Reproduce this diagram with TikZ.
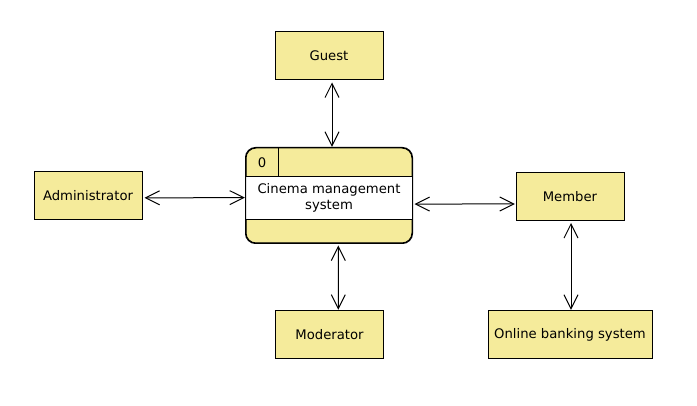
\documentclass[tikz,border=0pt]{standalone}
\usepackage{fontspec}
\setmainfont{DejaVu Sans}
\usetikzlibrary{arrows.meta,calc}
\definecolor{boxyellow}{RGB}{245,235,155}
\begin{document}
\begin{tikzpicture}[x=0.75pt,y=-0.75pt,
  ext/.style={draw=black, fill=boxyellow, line width=0.75pt, minimum width=81pt, minimum height=36pt, inner sep=0pt, font=\fontsize{9.9}{12}\selectfont},
  flow/.style={line width=0.75pt, {Straight Barb[length=10.5pt,width=10.5pt]}-{Straight Barb[length=10.5pt,width=10.5pt]}, shorten <=1.5pt, shorten >=0.5pt},
  lbl/.style={inner sep=0pt, font=\fontsize{9.9}{12}\selectfont},
]
\useasboundingbox (0,0) rectangle (697,406);
\node[ext] (guest) at (329,56) {Guest};
\node[ext] (admin) at (88,196) {Administrator};
\node[ext] (member) at (570,196.5) {Member};
\node[ext] (moder) at (329.5,335) {Moderator};
\node[ext, minimum width=123pt] (bank) at (570,335) {Online banking system};
% process
\node[draw, fill=boxyellow, rounded corners=7.5pt, minimum width=124.5pt, minimum height=71.25pt, line width=0.75pt, inner sep=0pt] (proc) at (329,195.5) {};
\fill[white] (246,177) rectangle (412,220);
\draw[line width=0.75pt] (246,177) -- (412,177);
\draw[line width=0.75pt] (246,220) -- (412,220);
\draw[line width=0.75pt] (278.5,148) -- (278.5,177);
\draw[line width=0.75pt, rounded corners=7.5pt] (proc.north west) rectangle (proc.south east);
\node[lbl] (pid) at (262,162.5) {0};
\node[lbl, align=center] (pname) at (329,198) {Cinema management\\system};
% flows
\draw[flow] ([xshift=2.25pt]guest.south) -- ([xshift=2.25pt]proc.north);
\draw[flow] ([yshift=-1.4pt]admin.east) -- ([yshift=-1.6pt]proc.west);
\draw[flow] ([yshift=-6.4pt]proc.east) -- ([yshift=-5.6pt]member.west);
\draw[flow] ([xshift=7pt]proc.south) -- ([xshift=6.6pt]moder.north);
\draw[flow] ([xshift=0.75pt]member.south) -- ([xshift=0.75pt]bank.north);
\end{tikzpicture}
\end{document}
